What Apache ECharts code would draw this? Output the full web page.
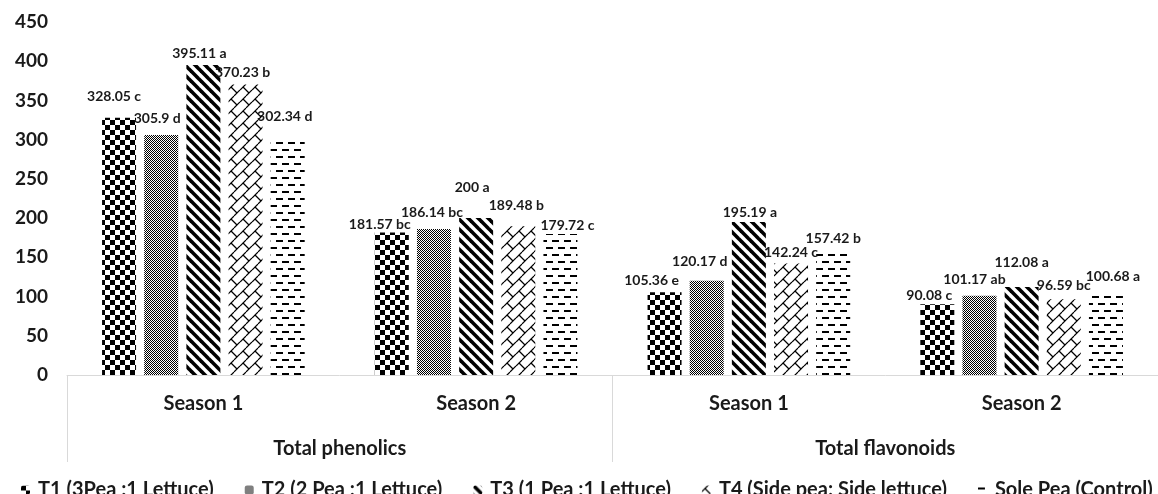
<!DOCTYPE html>
<html>
<head>
<meta charset="utf-8">
<script src="https://cdn.jsdelivr.net/npm/echarts@6/dist/echarts.min.js"></script>
<style>
  html, body { margin: 0; padding: 0; background: #fff; }
  #chart { width: 1158px; height: 494px; }
</style>
</head>
<body>
<div id="chart"></div>
<script>
// ---------- data ----------
const categories = ['Season 1', 'Season 2', 'Season 1', 'Season 2'];
const groups = ['Total phenolics', 'Total flavonoids'];
const seriesNames = [
  'T1 (3Pea :1 Lettuce)',
  'T2 (2 Pea :1 Lettuce)',
  'T3 (1 Pea :1 Lettuce)',
  'T4 (Side pea: Side lettuce)',
  'Sole Pea (Control)'
];
const t1Values = [328.05, 181.57, 105.36, 90.08];
const t2Values = [305.9, 186.14, 120.17, 101.17];
const t3Values = [395.11, 200, 195.19, 112.08];
const t4Values = [370.23, 189.48, 142.24, 96.59];
const t5Values = [302.34, 179.72, 157.42, 100.68];
const t1Letters = ['c', 'bc', 'e', 'c'];
const t2Letters = ['d', 'bc', 'd', 'ab'];
const t3Letters = ['a', 'a', 'a', 'a'];
const t4Letters = ['b', 'b', 'c', 'bc'];
const t5Letters = ['d', 'c', 'b', 'a'];
const yMin = 0, yMax = 450, yInterval = 50;

// ---------- label nudges (style only) ----------
const labelNudge = [
  [[-5, -9], [-12, 4], [-13, 0], [-8, 3]],
  [[-4, -5], [-2, -4], [-7, -7], [-5, -4]],
  [[-4, 0], [-4, -19], [1, 3], [0, -13]],
  [[-3, 0], [-2, -9], [0, 1], [0, -2]],
  [[-3, -9], [7, 3], [0, -1], [7, -8]]
];

// ---------- patterns ----------
function tile(w, h, draw) {
  const c = document.createElement('canvas');
  c.width = w; c.height = h;
  const g = c.getContext('2d');
  g.fillStyle = '#fff'; g.fillRect(0, 0, w, h);
  g.fillStyle = '#000'; g.strokeStyle = '#000';
  draw(g, w, h);
  return c;
}
const patChecker = tile(10, 10, g => { g.fillRect(0, 0, 5, 5); g.fillRect(5, 5, 5, 5); });
const patDots = tile(2, 2, g => { g.fillRect(0, 0, 1, 1); g.fillRect(1, 1, 1, 1); });
const patStripes = tile(10, 10, g => {
  g.lineWidth = 3.6;
  for (let k = -2; k <= 2; k++) {
    g.beginPath(); g.moveTo(-10, -10 + k * 10); g.lineTo(20, 20 + k * 10); g.stroke();
  }
});
const patBrick = tile(12, 12, g => {
  g.lineWidth = 1.2;
  g.beginPath(); g.moveTo(0, 6); g.lineTo(6, 0); g.stroke();
  g.beginPath(); g.moveTo(6, 12); g.lineTo(12, 6); g.stroke();
  g.beginPath(); g.moveTo(3, 3); g.lineTo(9, 9); g.stroke();
});
const patDash = tile(12, 14, g => {
  g.fillRect(0, 2, 7, 2);
  g.fillRect(6, 9, 6, 2);
  g.fillRect(0, 9, 1, 2);
});
const patterns = [patChecker, patDots, patStripes, patBrick, patDash];

const valueSets = [t1Values, t2Values, t3Values, t4Values, t5Values];
const letterSets = [t1Letters, t2Letters, t3Letters, t4Letters, t5Letters];

const FONT = 'Lato';
const TXT = '#1a1a1a';

const series = seriesNames.map((name, si) => ({
  name: name,
  type: 'bar',
  xAxisIndex: 0,
  barWidth: 34,
  barGap: '24%',
  itemStyle: { color: { image: patterns[si], repeat: 'repeat' } },
  label: {
    show: true,
    position: 'top',
    distance: 5,
    fontFamily: FONT,
    fontWeight: 'bold',
    fontSize: 14,
    color: TXT,
    formatter: p => String(valueSets[si][p.dataIndex]) + ' ' + letterSets[si][p.dataIndex]
  },
  data: valueSets[si].map((v, i) => ({ value: v, label: { offset: labelNudge[si][i] } }))
}));

const chart = echarts.init(document.getElementById('chart'), null, { renderer: 'canvas' });
chart.setOption({
  animation: false,
  backgroundColor: '#fff',
  grid: { left: 67, right: -11, top: 22, bottom: 119, containLabel: false },
  legend: {
    data: seriesNames,
    left: 16,
    top: 475,
    itemWidth: 9,
    itemHeight: 9,
    itemGap: 31,
    textStyle: { fontFamily: FONT, fontWeight: 'bold', fontSize: 20, color: TXT, padding: [0, 0, 0, 3] }
  },
  xAxis: [
    {
      type: 'category',
      data: categories,
      position: 'bottom',
      axisLine: { lineStyle: { color: '#d9d9d9', width: 1 } },
      axisTick: { show: false },
      axisLabel: { margin: 19, fontFamily: FONT, fontWeight: 'bold', fontSize: 20, color: TXT },
      splitLine: { show: false }
    },
    {
      type: 'category',
      data: groups,
      position: 'bottom',
      offset: 87,
      axisLine: { show: false },
      axisTick: { show: true, inside: true, length: 87, lineStyle: { color: '#d9d9d9', width: 1 } },
      axisLabel: { inside: true, margin: 3, fontFamily: FONT, fontWeight: 'bold', fontSize: 20, color: TXT },
      splitLine: { show: false }
    }
  ],
  yAxis: {
    type: 'value',
    min: yMin,
    max: yMax,
    interval: yInterval,
    axisLine: { show: false },
    axisTick: { show: false },
    splitLine: { show: false },
    axisLabel: { margin: 19, fontFamily: FONT, fontWeight: 'bold', fontSize: 19, color: TXT }
  },
  series: series
});
</script>
</body>
</html>
